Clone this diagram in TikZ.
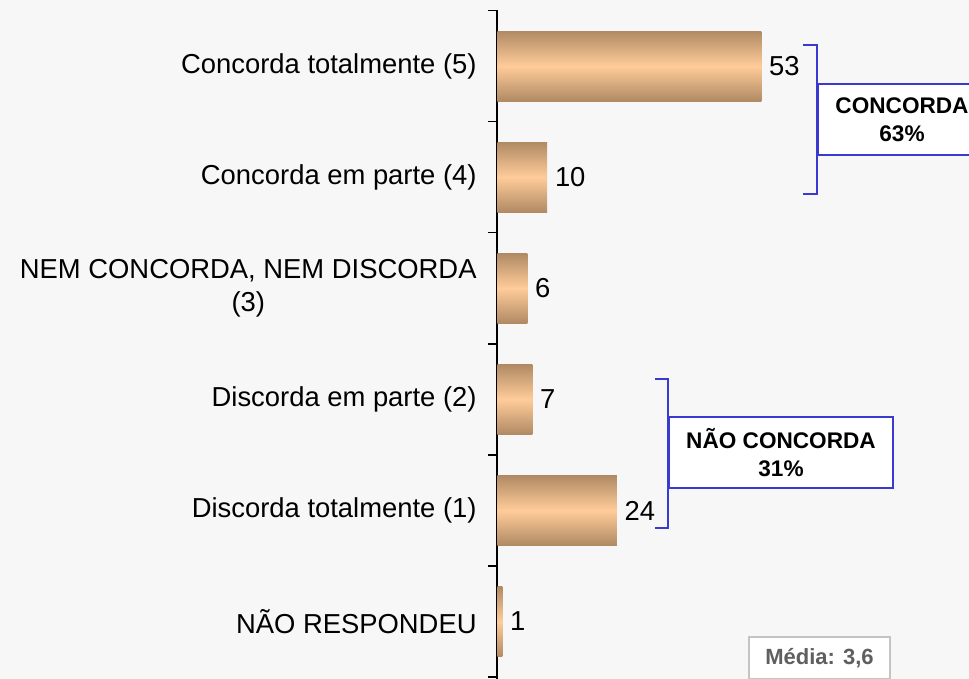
\documentclass[tikz,border=0pt]{standalone}
\usepackage{fontspec}
\setmainfont{Liberation Sans}
\usetikzlibrary{positioning,calc}

\definecolor{chartbg}{HTML}{F7F7F7}
\definecolor{bardark}{HTML}{B08A64}
\definecolor{barlight}{HTML}{FFCC99}
\definecolor{groupblue}{HTML}{3A3AD0}
\definecolor{meantext}{HTML}{5F5F5F}
\definecolor{meanframe}{HTML}{C4C4C4}

\begin{document}
\begin{tikzpicture}[
    %–––– GLOBAL STYLE TWEAKS ––––
    x=0.5pt, y=-0.5pt,                               % one unit = one pixel, downwards
    font=\fontsize{13.7}{16.5}\selectfont,
    bar/.style      = {rectangle, inner sep=0pt, minimum height=35pt, anchor=west,
                       top color=bardark, bottom color=bardark, middle color=barlight},
    vallabel/.style = {anchor=west, inner sep=3.5pt},
    catlabel/.style = {anchor=east, align=center, inner sep=0pt},
    groupbox/.style = {draw=groupblue, line width=1pt, fill=white, align=center,
                       minimum height=35.5pt, inner sep=0pt,
                       font=\fontsize{11.3}{14.25}\selectfont\bfseries},
    bracket/.style  = {draw=groupblue, line width=0.8pt},
    meanbox/.style  = {draw=meanframe, line width=0.8pt, fill=white, text=meantext,
                       minimum width=70.5pt, minimum height=21pt, inner sep=0pt,
                       font=\fontsize{11}{13}\selectfont\bfseries},
]
%–––– BACKGROUND ––––
\fill[chartbg] (0,0) rectangle (969,679);
\useasboundingbox (0,0) rectangle (969,679);

%–––– AXIS ––––
\draw[line width=0.75pt] (497,10.5) -- (497,679);
\foreach \k in {0,...,6}
  \draw[line width=0.75pt] (488,10.5+111.1*\k) -- (497,10.5+111.1*\k);

%–––– BARS ––––
\foreach \val/\lab [count=\i] in {
  53/{Concorda totalmente (5)},
  10/{Concorda em parte (4)},
  6/{NEM CONCORDA, NEM DISCORDA\\(3)},
  7/{Discorda em parte (2)},
  24/{Discorda totalmente (1)},
  1/{NÃO RESPONDEU}}{
  \pgfmathsetmacro{\yc}{10.5+111.1*(\i-0.5)}
  \node (bar\i) [bar, minimum width=\val*2.49pt] at (497,\yc) {};
  \node (val\i) [vallabel, right=0pt of bar\i] {\val};
  \node (cat\i) [catlabel] at (477,\yc) {\lab};
}

%–––– GROUP BOXES ––––
\node (concorda) [groupbox, minimum width=84pt]  at (902,119.5) {CONCORDA\\63\%};
\node (naoconc)  [groupbox, minimum width=112pt] at (781,452.5) {NÃO CONCORDA\\31\%};

\coordinate (ctop) at (803,45);
\coordinate (cbot) at (803,194);
\coordinate (ntop) at (655,379);
\coordinate (nbot) at (655,528);
\draw[bracket] (ctop) -| (concorda.west) |- (cbot);
\draw[bracket] (ntop) -| (naoconc.west) |- (nbot);

%–––– MEAN ––––
\node (media) [meanbox] at (819.5,658) {Média: 3,6};
\end{tikzpicture}
\end{document}
